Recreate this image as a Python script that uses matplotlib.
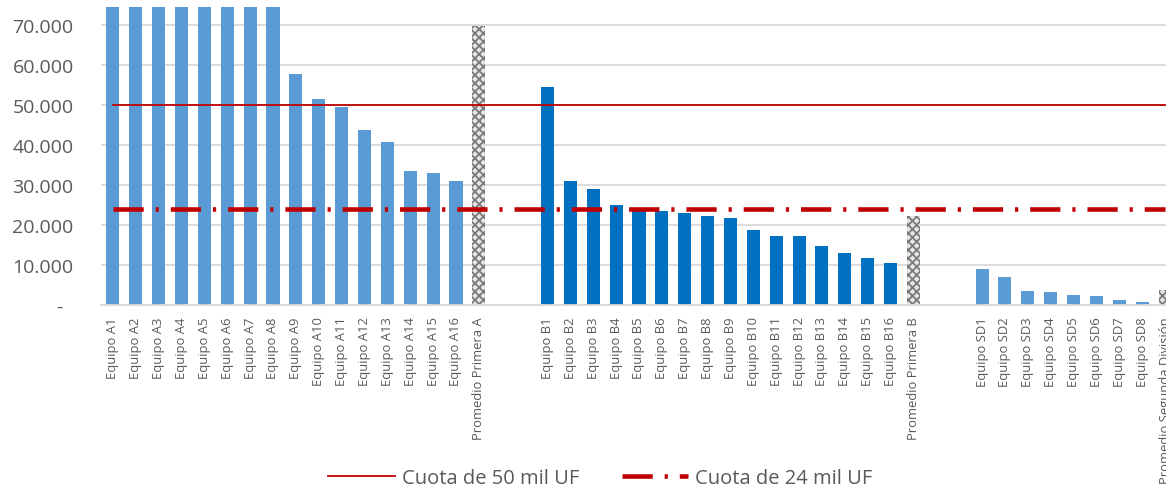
import matplotlib
matplotlib.use("Agg")
import matplotlib.pyplot as plt
import numpy as np

plt.rcParams['font.family'] = ['Open Sans', 'DejaVu Sans']
plt.rcParams['hatch.linewidth'] = 1.3

# ---- data ----
labels_a = [f"Equipo A{i}" for i in range(1, 17)] + ["Promedio Primera A"]
values_a = [130000, 120000, 110000, 100000, 95000, 90000, 85000, 80000,
            57700, 51500, 49500, 43800, 40800, 33500, 33000, 31000, 69800]
labels_b = [f"Equipo B{i}" for i in range(1, 17)] + ["Promedio Primera B"]
values_b = [54400, 31000, 29100, 25000, 24200, 23500, 23000, 22300, 21800,
            18800, 17200, 17200, 14800, 13000, 11800, 10500, 22300]
labels_sd = [f"Equipo SD{i}" for i in range(1, 9)] + ["Promedio Segunda División"]
values_sd = [9000, 7000, 3500, 3300, 2600, 2200, 1200, 700, 3800]
cuota_50 = 50000
cuota_24 = 24000
y_ticks = [0, 10000, 20000, 30000, 40000, 50000, 60000, 70000]

light_blue = '#5B9BD5'
dark_blue = '#0070C0'
red = '#C00000'
gray_txt = '#595959'

# build category list with two blank slots between groups
cats, vals, kinds = [], [], []
def add(lbls, vs, kind):
    for i, (l, v) in enumerate(zip(lbls, vs)):
        cats.append(l); vals.append(v)
        kinds.append('avg' if i == len(lbls) - 1 else kind)
add(labels_a, values_a, 'a')
for _ in range(2):
    cats.append(''); vals.append(0); kinds.append('blank')
add(labels_b, values_b, 'b')
for _ in range(2):
    cats.append(''); vals.append(0); kinds.append('blank')
add(labels_sd, values_sd, 'sd')

x = np.arange(len(cats))

fig = plt.figure(figsize=(11.66, 4.89), dpi=100)
ax = fig.add_axes([0.087, 0.3742, 0.913, 0.6094])

colors = {'a': light_blue, 'b': dark_blue, 'sd': light_blue}
for xi, v, k in zip(x, vals, kinds):
    if k == 'blank':
        continue
    if k == 'avg':
        ax.bar(xi, v, width=0.57, facecolor='#e6e6e6', edgecolor='#7a7a7a',
               hatch='xxxx', linewidth=0, zorder=2)
    else:
        ax.bar(xi, v, width=0.57, color=colors[k], zorder=2)

ax.plot(x, [cuota_50] * len(x), color=red, lw=1.3, zorder=3,
        label='Cuota de 50 mil UF')
ax.plot(x, [cuota_24] * len(x), color=red, lw=3.3, zorder=3,
        dashes=(6.6, 2.6, 0.7, 2.6), label='Cuota de 24 mil UF')

ax.set_xlim(-0.5, 46.04)
ax.set_ylim(0, 74500)
ax.set_yticks(y_ticks)
ax.set_yticklabels(['-  '] + [f"{v:,}".replace(',', '.') for v in y_ticks[1:]],
                   fontsize=14, color=gray_txt)
ax.set_xticks(x)
ax.set_xticklabels(cats, rotation=90, fontsize=9.4, color=gray_txt)
ax.tick_params(axis='both', length=0)
ax.tick_params(axis='x', pad=8)
ax.tick_params(axis='y', pad=20)
ax.grid(axis='y', color='#d9d9d9', lw=1.3, zorder=0)
ax.set_axisbelow(True)
for s in ['top', 'right', 'left']:
    ax.spines[s].set_visible(False)
ax.spines['bottom'].set_color('#d9d9d9')
ax.spines['bottom'].set_linewidth(1.3)

leg = fig.legend(loc='center', bbox_to_anchor=(0.515, 0.02), ncol=2,
                 frameon=False, fontsize=14.5, handlelength=3.3,
                 columnspacing=2.1, handletextpad=0.35)
for t in leg.get_texts():
    t.set_color(gray_txt)

fig.savefig('out.png', dpi=100)
